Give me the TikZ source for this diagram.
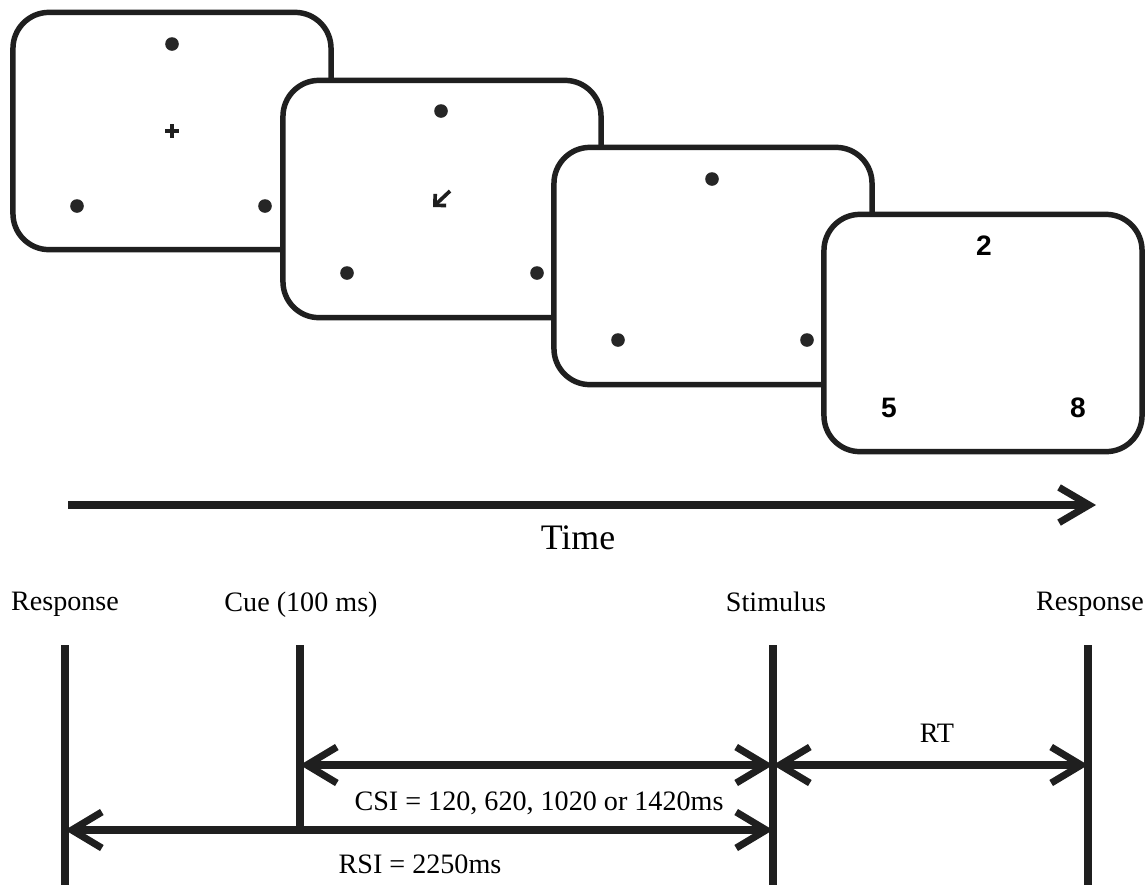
\documentclass[tikz,border=0pt]{standalone}
\usepackage{fontspec}
\setmainfont{Liberation Serif}
\newfontfamily\digitfont{Liberation Sans}
\usetikzlibrary{arrows.meta}

\begin{document}
\begin{tikzpicture}[
  x=0.025cm,
  y=-0.025cm,
  ink/.style={draw=black!88,line join=miter},
  screen/.style={ink,fill=white,line width=3.9pt,rounded corners=0.9cm,
    minimum width=7.95cm,minimum height=5.93cm,inner sep=0pt},
  dot/.style={fill=black!85},
  digit/.style={font=\digitfont\bfseries\fontsize{20}{24}\selectfont,inner sep=0pt},
  cross/.style={ink,line width=2.9pt},
  cuearrow/.style={ink,line width=2.6pt,-{Straight Barb[length=0.2cm,width=0.4cm]}},
  line/.style={ink,line width=5pt},
  timeline/.style={line,-{Straight Barb[length=0.75cm,width=0.88cm]}},
  twoway/.style={line,{Straight Barb[length=0.75cm,width=0.9cm]}-{Straight Barb[length=0.75cm,width=0.9cm]}},
  evtext/.style={font=\fontsize{20}{24}\selectfont,anchor=base,inner sep=0pt}
]
\useasboundingbox (0,0) rectangle (1146,884);

% Screens, each one drawn over the one before
\node[screen] (screen1) at (172,131) {};
\fill[dot] (172,44) circle (0.17cm);
\fill[dot] (77,206) circle (0.17cm);
\fill[dot] (265,206) circle (0.17cm);
\draw[cross] (165,131) -- (179,131);
\draw[cross] (172,124) -- (172,138);

\node[screen] (screen2) at (442,199) {};
\fill[dot] (441,111) circle (0.17cm);
\fill[dot] (347,273) circle (0.17cm);
\fill[dot] (537,273) circle (0.17cm);
\draw[cuearrow] (450,191) -- (433,207);

\node[screen] (screen3) at (713,266) {};
\fill[dot] (712,179) circle (0.17cm);
\fill[dot] (618,340) circle (0.17cm);
\fill[dot] (807,340) circle (0.17cm);

\node[screen] (screen4) at (983,333) {};
\node[digit] (two) at (984,246) {2};
\node[digit] (five) at (889,408) {5};
\node[digit] (eight) at (1078,408) {8};

% Time axis
\coordinate (tstart) at (68,505);
\coordinate (tend) at (1096,505);
\draw[timeline] (tstart) -- (tend);
\node[evtext,font=\fontsize{25.5}{30}\selectfont] (timelab) at (578,549) {Time};

% Events
\node[evtext] (resp1lab) at (65,610) {Response};
\node[evtext] (cuelab) at (301,611) {Cue (100 ms)};
\node[evtext] (stimlab) at (776,611) {Stimulus};
\node[evtext] (resp2lab) at (1090,610) {Response};

\coordinate (resp1) at (65,645);
\coordinate (cue) at (300,645);
\coordinate (stim) at (773,645);
\coordinate (resp2) at (1088,645);
\coordinate (arrowrow) at (0,765);
\coordinate (rsirow) at (0,830);
\coordinate (bottom) at (0,888);

\draw[line] (resp1) -- (resp1 |- bottom);
\draw[line] (cue) -- ([yshift=-2.5pt]cue |- rsirow);
\draw[line] (stim) -- (stim |- bottom);
\draw[line] (resp2) -- (resp2 |- bottom);

% Intervals
\draw[twoway] (cue |- arrowrow) -- (stim |- arrowrow);
\draw[twoway] (stim |- arrowrow) -- (resp2 |- arrowrow);
\draw[twoway] (resp1 |- rsirow) -- (stim |- rsirow);

\node[evtext] (rtlab) at (937,742) {RT};
\node[evtext] (csilab) at (539,810) {CSI = 120, 620, 1020 or 1420ms};
\node[evtext] (rsilab) at (420,873) {RSI = 2250ms};

\end{tikzpicture}
\end{document}
